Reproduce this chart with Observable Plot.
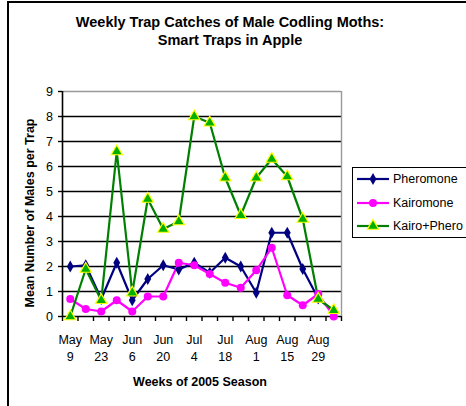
<!DOCTYPE html>
<html>
<head>
<meta charset="utf-8">
<script src="https://cdn.jsdelivr.net/npm/d3@7"></script>
<script src="https://cdn.jsdelivr.net/npm/@observablehq/plot@0.6"></script>
<style>
  html, body { margin: 0; padding: 0; background: #fff; overflow: hidden; }
  #wrap { position: relative; width: 466px; height: 406px; overflow: hidden; font-family: "Liberation Sans", Arial, sans-serif; }
  #frame { position: absolute; left: 7px; top: 1px; width: 470px; height: 420px; border: 2px solid #000; box-sizing: border-box; }
  #chart { position: absolute; left: 0; top: 0; }
  #legend { position: absolute; left: 352px; top: 167px; width: 130px; height: 71px; border: 1px solid #000; box-sizing: border-box; background: #fff; }
  .li { position: absolute; left: 3px; height: 20px; display: flex; align-items: center; font-size: 12.5px; color: #000; }
  .li svg { margin-right: 3px; }
</style>
</head>
<body>
<div id="wrap">
  <div id="frame"></div>
  <div id="chart"></div>
  <div id="legend"></div>
</div>
<script>
// ---- data ----
const weeks = ["May 9","May 16","May 23","May 30","Jun 6","Jun 13","Jun 20","Jun 27","Jul 4","Jul 11","Jul 18","Jul 25","Aug 1","Aug 8","Aug 15","Aug 22","Aug 29","Sep 5"];
const tickLabels = ["May\n9","May\n23","Jun\n6","Jun\n20","Jul\n4","Jul\n18","Aug\n1","Aug\n15","Aug\n29"];
const seriesNames = ["Pheromone","Kairomone","Kairo+Phero"];
const pheromone  = [2.0, 2.05, 0.7, 2.15, 0.65, 1.5, 2.05, 1.88, 2.15, 1.75, 2.35, 2.0, 0.95, 3.35, 3.35, 1.9, 0.72, 0.2];
const kairomone  = [0.7, 0.3, 0.2, 0.65, 0.2, 0.8, 0.8, 2.15, 2.05, 1.7, 1.35, 1.15, 1.85, 2.75, 0.85, 0.45, 0.9, 0.0];
const kairoPhero = [0.0, 1.9, 0.65, 6.6, 0.95, 4.7, 3.5, 3.8, 8.0, 7.75, 5.55, 4.05, 5.55, 6.3, 5.6, 3.9, 0.7, 0.25];
const yTicks = [0,1,2,3,4,5,6,7,8,9];
const gridValues = [1,2,3,4,5,6,7,8];
const title = "Weekly Trap Catches of Male Codling Moths:\nSmart Traps in Apple";
const yTitle = "Mean Number of Males per Trap";
const xTitle = "Weeks of 2005 Season";

const styles = {
  "Pheromone":   {stroke: "#000080", fill: "#000080", fillStroke: "#000080", symbol: "diamond", r: 3.6},
  "Kairomone":   {stroke: "#ff00ff", fill: "#ff00ff", fillStroke: "#ff00ff", symbol: "circle", r: 4},
  "Kairo+Phero": {stroke: "#008000", fill: "#00b000", fillStroke: "#ffff00", symbol: "triangle", r: 4.2}
};

const values = [pheromone, kairomone, kairoPhero];
const rows = [];
seriesNames.forEach((s, k) => values[k].forEach((v, i) => rows.push({i, week: weeks[i], series: s, value: v})));

const n = weeks.length;
const boundaries = d3.range(-0.5, n, 1);
const labelIdx = d3.range(0, n, 2).filter(i => i / 2 < tickLabels.length);

const font = "'Liberation Sans', Arial, sans-serif";

const marks = [
  Plot.ruleY(gridValues, {stroke: "#000", strokeWidth: 1.4}),
  Plot.ruleY([9], {stroke: "#999", strokeWidth: 1.4}),
  Plot.ruleX([n - 0.5], {y1: 0, y2: 9, stroke: "#999", strokeWidth: 1.4}),
  Plot.axisY({ticks: yTicks, label: null, tickSize: 4, tickPadding: 5.5, fontSize: 12.5, stroke: "#000", strokeWidth: 1.4, fill: "#000"}),
  Plot.axisX({ticks: boundaries, label: null, tickSize: 5, tickFormat: () => "", stroke: "#000", strokeWidth: 1.4}),
  Plot.axisX({ticks: labelIdx, label: null, tickSize: 0, tickPadding: 15.5, tickFormat: i => tickLabels[i / 2], lineHeight: 1.38, fontSize: 12.5, fill: "#000"}),
  Plot.ruleX([-0.5], {y1: 0, y2: 9, stroke: "#000", strokeWidth: 1.6}),
  Plot.ruleY([0], {stroke: "#000", strokeWidth: 1.6})
];
for (const s of seriesNames) {
  const st = styles[s];
  const d = rows.filter(r => r.series === s);
  marks.push(Plot.line(d, {x: "i", y: "value", stroke: st.stroke, strokeWidth: 2.2}));
}
for (const s of seriesNames) {
  const st = styles[s];
  const d = rows.filter(r => r.series === s);
  marks.push(Plot.dot(d, {x: "i", y: "value", symbol: () => st.symbol, r: st.r, fill: st.fill, stroke: st.fillStroke, strokeWidth: s === "Kairo+Phero" ? 1.2 : 0}));
}
marks.push(
  Plot.text([title], {frameAnchor: "top", dx: 28, dy: -77, lineAnchor: "top", lineHeight: 1.24, fontSize: 14.5, fontWeight: "bold", fill: "#000"}),
  Plot.text([yTitle], {frameAnchor: "left", textAnchor: "middle", dx: -33, dy: 9, rotate: -90, lineAnchor: "middle", fontSize: 12.5, fontWeight: "bold", fill: "#000"}),
  Plot.text([xTitle], {frameAnchor: "bottom", dx: -2, dy: 65, lineAnchor: "middle", fontSize: 12.5, fontWeight: "bold", fill: "#000"})
);

const chart = Plot.plot({
  width: 466,
  height: 406,
  marginLeft: 62,
  marginRight: 125,
  marginTop: 91,
  marginBottom: 90,
  style: {fontFamily: font, background: "transparent", overflow: "visible"},
  x: {type: "linear", domain: [-0.5, n - 0.5], axis: null},
  y: {domain: [0, 9], axis: null},
  marks
});
document.getElementById("chart").appendChild(chart);

// ---- legend ----
const legend = d3.select("#legend");
seriesNames.forEach((s, k) => {
  const st = styles[s];
  const item = legend.append("div").attr("class", "li").style("top", (1 + k * 23.5) + "px");
  const svg = item.append("svg").attr("width", 34).attr("height", 20);
  svg.append("line").attr("x1", 1).attr("x2", 33).attr("y1", 10).attr("y2", 10).attr("stroke", st.stroke).attr("stroke-width", 2.2);
  const symMap = {diamond: d3.symbolDiamond, circle: d3.symbolCircle, triangle: d3.symbolTriangle};
  svg.append("path").attr("transform", "translate(17,10)")
    .attr("d", d3.symbol(symMap[st.symbol], Math.PI * st.r * st.r)())
    .attr("fill", st.fill).attr("stroke", st.fillStroke).attr("stroke-width", s === "Kairo+Phero" ? 1.2 : 0);
  item.append("span").text(s);
});
</script>
</body>
</html>
